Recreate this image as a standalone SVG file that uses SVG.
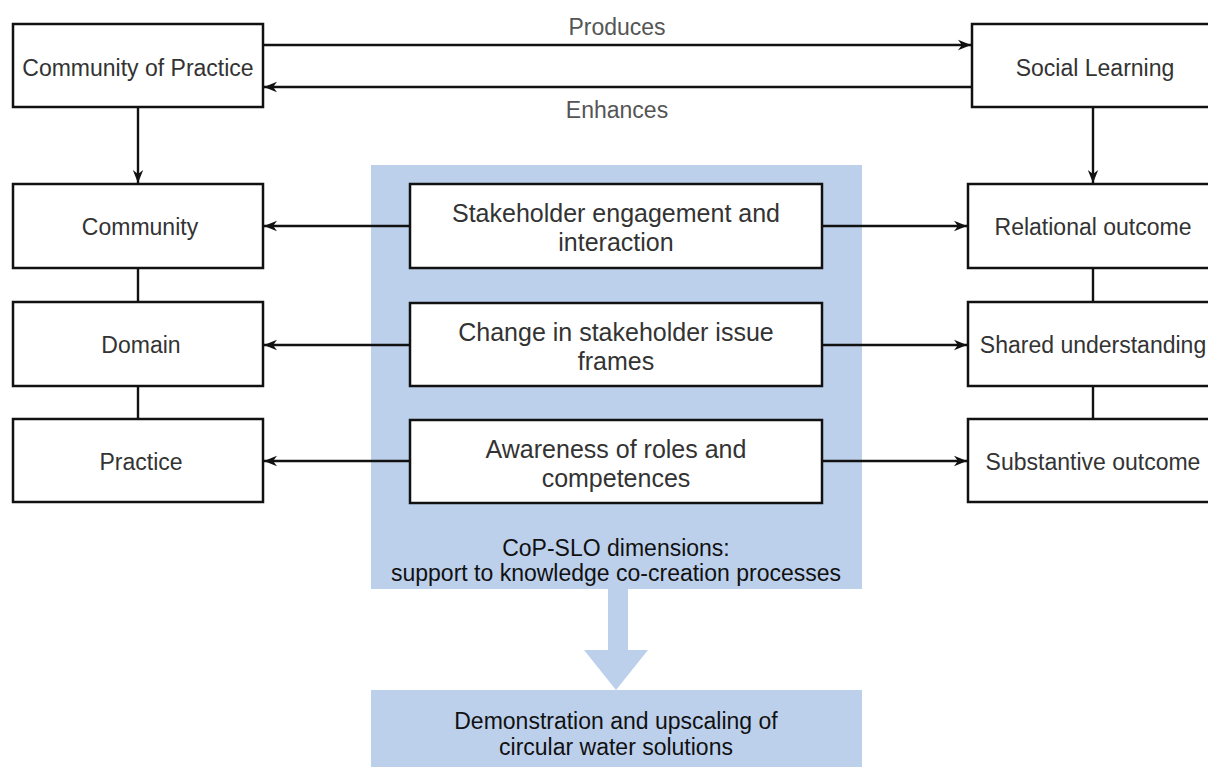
<svg xmlns="http://www.w3.org/2000/svg" width="1208" height="767" viewBox="0 0 1208 767">
<defs>
<style>
.box{fill:#fff;stroke:#111;stroke-width:2.5}
.t{font-family:"Liberation Sans",Arial,sans-serif;font-size:23px;fill:#333;text-anchor:middle}
.t2{font-family:"Liberation Sans",Arial,sans-serif;font-size:25px;fill:#333;text-anchor:middle}
.lbl{font-family:"Liberation Sans",Arial,sans-serif;font-size:23px;fill:#555;text-anchor:middle}
.dk{font-family:"Liberation Sans",Arial,sans-serif;font-size:23px;fill:#111;text-anchor:middle}
.ln{stroke:#111;stroke-width:2.4;fill:none}
.panel{fill:#bcd0ec}
</style>
<marker id="ah" viewBox="0 0 10 10" refX="10" refY="5" markerWidth="13" markerHeight="13" markerUnits="userSpaceOnUse" orient="auto">
<path d="M0,1 L10,5 L0,9 L3,5 Z" fill="#111"/>
</marker>
</defs>
<rect width="1208" height="767" fill="#fff"/>
<g id="panel">
<rect class="panel" x="371" y="165" width="491" height="424"/>
<text class="dk" x="616" y="556">CoP-SLO dimensions:</text>
<text class="dk" x="616" y="581">support to knowledge co-creation processes</text>
</g>
<g id="bigarrow">
<path class="panel" d="M608,589 L628,589 L628,650 L648,650 L616,690 L584,650 L608,650 Z"/>
</g>
<g id="outcome">
<rect class="panel" x="371" y="690" width="491" height="77"/>
<text class="dk" x="616" y="729">Demonstration and upscaling of</text>
<text class="dk" x="616" y="755">circular water solutions</text>
</g>
<g id="connectors">
<path class="ln" d="M263,45 H971" marker-end="url(#ah)"/>
<path class="ln" d="M972,87 H264" marker-end="url(#ah)"/>
<path class="ln" d="M138,107 V183" marker-end="url(#ah)"/>
<path class="ln" d="M1093,107 V183" marker-end="url(#ah)"/>
<path class="ln" d="M138,268 V302 M138,386 V419"/>
<path class="ln" d="M1093,268 V302 M1093,386 V419"/>
<path class="ln" d="M410,226 H264" marker-end="url(#ah)"/>
<path class="ln" d="M410,345 H264" marker-end="url(#ah)"/>
<path class="ln" d="M410,461 H264" marker-end="url(#ah)"/>
<path class="ln" d="M822,226 H967" marker-end="url(#ah)"/>
<path class="ln" d="M822,345 H967" marker-end="url(#ah)"/>
<path class="ln" d="M822,461 H967" marker-end="url(#ah)"/>
<text class="lbl" x="617" y="35">Produces</text>
<text class="lbl" x="617" y="118">Enhances</text>
</g>
<g id="cop">
<rect class="box" x="13" y="24" width="250" height="83"/>
<text class="t" x="138" y="76">Community of Practice</text>
</g>
<g id="sl">
<rect class="box" x="972" y="24" width="250" height="83"/>
<text class="t" x="1095" y="76">Social Learning</text>
</g>
<g id="community">
<rect class="box" x="13" y="184" width="250" height="84"/>
<text class="t" x="140" y="235">Community</text>
</g>
<g id="domain">
<rect class="box" x="13" y="302" width="250" height="84"/>
<text class="t" x="141" y="353">Domain</text>
</g>
<g id="practice">
<rect class="box" x="13" y="419" width="250" height="83"/>
<text class="t" x="141" y="470">Practice</text>
</g>
<g id="relational">
<rect class="box" x="968" y="184" width="254" height="84"/>
<text class="t" x="1093" y="235">Relational outcome</text>
</g>
<g id="shared">
<rect class="box" x="968" y="302" width="254" height="84"/>
<text class="t" x="1093" y="353">Shared understanding</text>
</g>
<g id="substantive">
<rect class="box" x="968" y="419" width="254" height="83"/>
<text class="t" x="1093" y="470">Substantive outcome</text>
</g>
<g id="engagement">
<rect class="box" x="410" y="184" width="412" height="84"/>
<text class="t2" x="616" y="222">Stakeholder engagement and</text>
<text class="t2" x="616" y="251">interaction</text>
</g>
<g id="frames">
<rect class="box" x="410" y="303" width="412" height="83"/>
<text class="t2" x="616" y="341">Change in stakeholder issue</text>
<text class="t2" x="616" y="370">frames</text>
</g>
<g id="awareness">
<rect class="box" x="410" y="420" width="412" height="83"/>
<text class="t2" x="616" y="458">Awareness of roles and</text>
<text class="t2" x="616" y="487">competences</text>
</g>
</svg>
